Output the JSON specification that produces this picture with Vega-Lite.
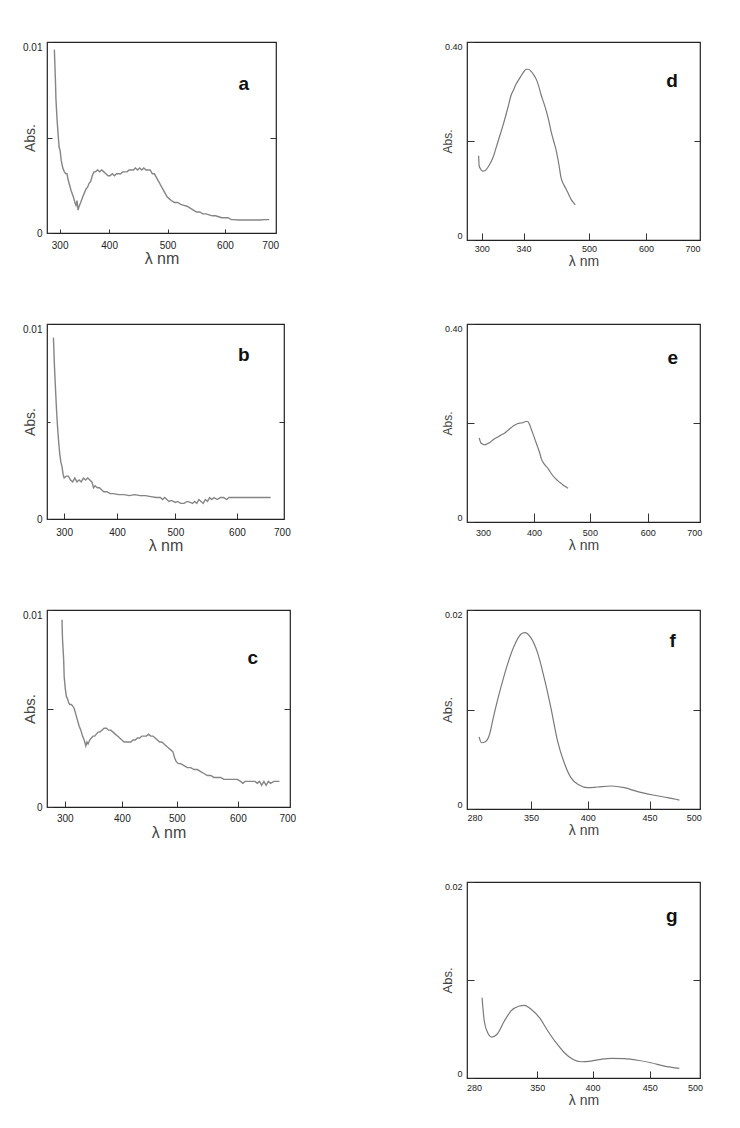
{
  "$schema": "https://vega.github.io/schema/vega-lite/v6.json",
  "padding": {"left": 21, "top": 40, "right": 5, "bottom": 5},
  "background": "white",
  "config": {
    "font": "Liberation Sans",
    "view": {"stroke": "#222", "strokeWidth": 1.2},
    "axis": {"domain": false, "grid": false, "labelFont": "Liberation Sans", "labelFontSize": 10, "labelColor": "#222", "titleFont": "Liberation Sans", "titleFontWeight": "normal", "titleColor": "#444", "tickColor": "#333", "tickWidth": 1}
  },
  "datasets": {
    "a": [
      {"wl":290,"abs":0.0096},{"wl":292,"abs":0.0080},{"wl":293,"abs":0.0070},{"wl":295,"abs":0.0060},{"wl":297,"abs":0.0052},{"wl":299,"abs":0.0045},{"wl":301,"abs":0.0043},{"wl":303,"abs":0.0038},{"wl":306,"abs":0.0034},{"wl":309,"abs":0.0032},{"wl":312,"abs":0.0031},{"wl":314,"abs":0.0031},{"wl":316,"abs":0.0028},{"wl":319,"abs":0.0025},{"wl":322,"abs":0.0022},{"wl":326,"abs":0.0019},{"wl":329,"abs":0.0016},{"wl":331,"abs":0.00145},{"wl":333,"abs":0.0017},{"wl":335,"abs":0.0012},{"wl":337,"abs":0.0014},{"wl":340,"abs":0.0016},{"wl":344,"abs":0.0019},{"wl":347,"abs":0.0021},{"wl":350,"abs":0.0023},{"wl":353,"abs":0.0024},{"wl":356,"abs":0.0026},{"wl":359,"abs":0.0027},{"wl":362,"abs":0.0030},{"wl":365,"abs":0.0032},{"wl":368,"abs":0.0032},{"wl":372,"abs":0.0033},{"wl":376,"abs":0.0032},{"wl":380,"abs":0.0033},{"wl":384,"abs":0.0032},{"wl":388,"abs":0.0031},{"wl":392,"abs":0.0030},{"wl":396,"abs":0.0030},{"wl":400,"abs":0.0031},{"wl":404,"abs":0.0030},{"wl":408,"abs":0.0031},{"wl":412,"abs":0.0031},{"wl":416,"abs":0.0031},{"wl":420,"abs":0.0032},{"wl":424,"abs":0.0032},{"wl":428,"abs":0.0032},{"wl":432,"abs":0.0033},{"wl":436,"abs":0.0033},{"wl":440,"abs":0.0033},{"wl":444,"abs":0.0034},{"wl":448,"abs":0.0033},{"wl":452,"abs":0.0034},{"wl":456,"abs":0.0033},{"wl":460,"abs":0.0034},{"wl":464,"abs":0.0033},{"wl":468,"abs":0.0033},{"wl":472,"abs":0.0033},{"wl":476,"abs":0.0031},{"wl":480,"abs":0.0031},{"wl":484,"abs":0.0029},{"wl":488,"abs":0.0027},{"wl":492,"abs":0.0025},{"wl":496,"abs":0.0023},{"wl":500,"abs":0.0021},{"wl":504,"abs":0.0019},{"wl":508,"abs":0.0018},{"wl":512,"abs":0.0017},{"wl":518,"abs":0.0016},{"wl":524,"abs":0.0016},{"wl":530,"abs":0.0015},{"wl":536,"abs":0.00145},{"wl":542,"abs":0.0014},{"wl":548,"abs":0.0013},{"wl":554,"abs":0.0012},{"wl":560,"abs":0.0011},{"wl":566,"abs":0.0011},{"wl":572,"abs":0.0010},{"wl":578,"abs":0.0010},{"wl":584,"abs":0.00095},{"wl":590,"abs":0.0009},{"wl":596,"abs":0.0009},{"wl":602,"abs":0.00085},{"wl":608,"abs":0.0008},{"wl":614,"abs":0.0008},{"wl":620,"abs":0.0008},{"wl":626,"abs":0.0007},{"wl":632,"abs":0.0007},{"wl":640,"abs":0.00068},{"wl":650,"abs":0.00068},{"wl":660,"abs":0.00068},{"wl":670,"abs":0.00068},{"wl":680,"abs":0.00068},{"wl":690,"abs":0.0007},{"wl":698,"abs":0.0007}
    ],
    "b": [
      {"wl":278,"abs":0.0093},{"wl":280,"abs":0.0078},{"wl":282,"abs":0.0066},{"wl":284,"abs":0.0055},{"wl":286,"abs":0.0046},{"wl":288,"abs":0.0039},{"wl":290,"abs":0.0033},{"wl":292,"abs":0.0029},{"wl":294,"abs":0.0027},{"wl":296,"abs":0.0023},{"wl":298,"abs":0.0021},{"wl":302,"abs":0.0022},{"wl":306,"abs":0.0022},{"wl":310,"abs":0.0020},{"wl":314,"abs":0.0019},{"wl":318,"abs":0.0021},{"wl":322,"abs":0.0019},{"wl":326,"abs":0.0020},{"wl":330,"abs":0.0019},{"wl":334,"abs":0.0021},{"wl":338,"abs":0.0020},{"wl":342,"abs":0.0021},{"wl":346,"abs":0.0020},{"wl":350,"abs":0.0019},{"wl":353,"abs":0.0016},{"wl":356,"abs":0.0017},{"wl":360,"abs":0.0016},{"wl":364,"abs":0.0016},{"wl":368,"abs":0.0015},{"wl":372,"abs":0.0014},{"wl":378,"abs":0.0014},{"wl":384,"abs":0.0013},{"wl":390,"abs":0.0013},{"wl":400,"abs":0.00125},{"wl":410,"abs":0.00125},{"wl":420,"abs":0.0012},{"wl":430,"abs":0.00125},{"wl":440,"abs":0.0012},{"wl":450,"abs":0.0012},{"wl":460,"abs":0.00115},{"wl":470,"abs":0.0011},{"wl":478,"abs":0.0011},{"wl":482,"abs":0.0010},{"wl":486,"abs":0.0011},{"wl":490,"abs":0.0010},{"wl":494,"abs":0.0009},{"wl":498,"abs":0.00095},{"wl":502,"abs":0.0009},{"wl":506,"abs":0.00085},{"wl":510,"abs":0.0009},{"wl":516,"abs":0.0008},{"wl":522,"abs":0.0008},{"wl":528,"abs":0.0009},{"wl":534,"abs":0.00085},{"wl":538,"abs":0.0008},{"wl":542,"abs":0.0009},{"wl":546,"abs":0.0008},{"wl":550,"abs":0.0010},{"wl":554,"abs":0.0009},{"wl":558,"abs":0.0008},{"wl":562,"abs":0.0010},{"wl":566,"abs":0.0009},{"wl":570,"abs":0.0011},{"wl":574,"abs":0.0010},{"wl":578,"abs":0.0011},{"wl":584,"abs":0.0010},{"wl":590,"abs":0.0011},{"wl":596,"abs":0.0011},{"wl":602,"abs":0.0010},{"wl":606,"abs":0.0011},{"wl":612,"abs":0.0011},{"wl":620,"abs":0.0011},{"wl":640,"abs":0.0011},{"wl":660,"abs":0.0011},{"wl":684,"abs":0.0011}
    ],
    "c": [
      {"wl":294,"abs":0.0095},{"wl":295,"abs":0.0085},{"wl":297,"abs":0.0075},{"wl":298,"abs":0.0066},{"wl":300,"abs":0.0060},{"wl":302,"abs":0.0056},{"wl":304,"abs":0.0055},{"wl":306,"abs":0.0053},{"wl":308,"abs":0.0052},{"wl":311,"abs":0.0052},{"wl":314,"abs":0.0051},{"wl":316,"abs":0.0050},{"wl":319,"abs":0.0047},{"wl":322,"abs":0.0044},{"wl":325,"abs":0.0041},{"wl":328,"abs":0.0039},{"wl":331,"abs":0.0036},{"wl":334,"abs":0.0034},{"wl":337,"abs":0.0031},{"wl":339,"abs":0.0033},{"wl":341,"abs":0.0032},{"wl":344,"abs":0.0034},{"wl":347,"abs":0.0035},{"wl":350,"abs":0.0036},{"wl":353,"abs":0.0036},{"wl":356,"abs":0.0037},{"wl":359,"abs":0.0038},{"wl":362,"abs":0.0038},{"wl":366,"abs":0.0039},{"wl":370,"abs":0.0040},{"wl":374,"abs":0.0040},{"wl":378,"abs":0.0039},{"wl":382,"abs":0.0039},{"wl":386,"abs":0.0038},{"wl":390,"abs":0.0037},{"wl":394,"abs":0.0036},{"wl":398,"abs":0.0035},{"wl":402,"abs":0.0034},{"wl":406,"abs":0.0033},{"wl":410,"abs":0.0033},{"wl":414,"abs":0.0033},{"wl":418,"abs":0.0033},{"wl":422,"abs":0.0034},{"wl":426,"abs":0.0034},{"wl":430,"abs":0.0035},{"wl":434,"abs":0.0035},{"wl":438,"abs":0.0036},{"wl":442,"abs":0.0036},{"wl":446,"abs":0.0036},{"wl":450,"abs":0.0037},{"wl":454,"abs":0.0036},{"wl":458,"abs":0.0036},{"wl":462,"abs":0.0035},{"wl":466,"abs":0.0034},{"wl":470,"abs":0.0033},{"wl":474,"abs":0.0033},{"wl":478,"abs":0.0032},{"wl":482,"abs":0.0031},{"wl":486,"abs":0.0030},{"wl":490,"abs":0.0029},{"wl":494,"abs":0.0028},{"wl":497,"abs":0.0025},{"wl":500,"abs":0.0023},{"wl":504,"abs":0.0022},{"wl":508,"abs":0.0022},{"wl":514,"abs":0.0021},{"wl":520,"abs":0.0020},{"wl":526,"abs":0.0020},{"wl":532,"abs":0.0019},{"wl":538,"abs":0.0019},{"wl":544,"abs":0.0018},{"wl":550,"abs":0.0017},{"wl":556,"abs":0.0016},{"wl":562,"abs":0.0016},{"wl":568,"abs":0.0015},{"wl":574,"abs":0.0015},{"wl":580,"abs":0.0015},{"wl":586,"abs":0.0014},{"wl":592,"abs":0.0014},{"wl":598,"abs":0.0014},{"wl":604,"abs":0.0014},{"wl":610,"abs":0.0014},{"wl":616,"abs":0.0013},{"wl":620,"abs":0.0012},{"wl":624,"abs":0.0013},{"wl":630,"abs":0.0013},{"wl":636,"abs":0.0013},{"wl":642,"abs":0.0013},{"wl":646,"abs":0.0012},{"wl":650,"abs":0.0013},{"wl":654,"abs":0.0011},{"wl":658,"abs":0.0013},{"wl":662,"abs":0.0011},{"wl":666,"abs":0.0013},{"wl":670,"abs":0.0012},{"wl":676,"abs":0.0013},{"wl":686,"abs":0.0013}
    ],
    "d": [
      {"wl":292,"abs":0.170},{"wl":293,"abs":0.150},{"wl":296,"abs":0.143},{"wl":300,"abs":0.139},{"wl":305,"abs":0.141},{"wl":309,"abs":0.146},{"wl":314,"abs":0.155},{"wl":319,"abs":0.166},{"wl":325,"abs":0.186},{"wl":331,"abs":0.207},{"wl":338,"abs":0.231},{"wl":344,"abs":0.254},{"wl":349,"abs":0.274},{"wl":353,"abs":0.291},{"wl":358,"abs":0.303},{"wl":363,"abs":0.315},{"wl":368,"abs":0.324},{"wl":372,"abs":0.331},{"wl":377,"abs":0.339},{"wl":382,"abs":0.345},{"wl":386,"abs":0.345},{"wl":391,"abs":0.341},{"wl":396,"abs":0.334},{"wl":401,"abs":0.325},{"wl":406,"abs":0.310},{"wl":410,"abs":0.294},{"wl":415,"abs":0.278},{"wl":420,"abs":0.261},{"wl":425,"abs":0.240},{"wl":429,"abs":0.220},{"wl":434,"abs":0.200},{"wl":439,"abs":0.180},{"wl":444,"abs":0.152},{"wl":448,"abs":0.126},{"wl":453,"abs":0.112},{"wl":458,"abs":0.102},{"wl":463,"abs":0.091},{"wl":467,"abs":0.082},{"wl":471,"abs":0.076},{"wl":475,"abs":0.071}
    ],
    "e": [
      {"wl":293,"abs":0.170},{"wl":296,"abs":0.160},{"wl":300,"abs":0.157},{"wl":303,"abs":0.156},{"wl":308,"abs":0.158},{"wl":312,"abs":0.160},{"wl":318,"abs":0.165},{"wl":325,"abs":0.170},{"wl":333,"abs":0.175},{"wl":341,"abs":0.180},{"wl":349,"abs":0.187},{"wl":357,"abs":0.194},{"wl":362,"abs":0.197},{"wl":366,"abs":0.199},{"wl":371,"abs":0.200},{"wl":376,"abs":0.201},{"wl":380,"abs":0.203},{"wl":384,"abs":0.203},{"wl":388,"abs":0.196},{"wl":391,"abs":0.187},{"wl":396,"abs":0.172},{"wl":401,"abs":0.157},{"wl":406,"abs":0.142},{"wl":410,"abs":0.127},{"wl":416,"abs":0.116},{"wl":423,"abs":0.107},{"wl":429,"abs":0.097},{"wl":436,"abs":0.088},{"wl":442,"abs":0.082},{"wl":448,"abs":0.077},{"wl":454,"abs":0.072},{"wl":460,"abs":0.068}
    ],
    "f": [
      {"wl":291.5,"abs":0.00724},{"wl":293.8,"abs":0.00666},{"wl":297,"abs":0.00673},{"wl":301,"abs":0.00734},{"wl":305.8,"abs":0.00952},{"wl":312.2,"abs":0.01219},{"wl":318.6,"abs":0.01454},{"wl":324.9,"abs":0.01638},{"wl":331.3,"abs":0.01756},{"wl":335.1,"abs":0.01772},{"wl":340.8,"abs":0.01722},{"wl":347.2,"abs":0.01571},{"wl":353.5,"abs":0.0132},{"wl":359.9,"abs":0.01018},{"wl":366.3,"abs":0.00683},{"wl":372.6,"abs":0.00465},{"wl":379,"abs":0.00315},{"wl":386.9,"abs":0.00241},{"wl":394.9,"abs":0.00214},{"wl":404.4,"abs":0.00221},{"wl":417.2,"abs":0.00231},{"wl":429.9,"abs":0.00214},{"wl":442.6,"abs":0.00174},{"wl":458.5,"abs":0.00138},{"wl":471.3,"abs":0.00114},{"wl":482.4,"abs":0.0009}
    ],
    "g": [
      {"wl":288,"abs":0.00819},{"wl":290.2,"abs":0.00582},{"wl":293.6,"abs":0.00462},{"wl":297.6,"abs":0.00418},{"wl":302.9,"abs":0.00446},{"wl":310.2,"abs":0.00582},{"wl":316.8,"abs":0.00684},{"wl":325.1,"abs":0.00735},{"wl":330.1,"abs":0.00742},{"wl":336.8,"abs":0.00701},{"wl":345.1,"abs":0.00615},{"wl":353.5,"abs":0.0048},{"wl":361.7,"abs":0.0036},{"wl":370,"abs":0.00258},{"wl":378.3,"abs":0.00191},{"wl":386.6,"abs":0.00166},{"wl":396.5,"abs":0.00173},{"wl":406.4,"abs":0.00191},{"wl":416.4,"abs":0.00201},{"wl":429.6,"abs":0.00197},{"wl":442.9,"abs":0.00181},{"wl":456.2,"abs":0.00156},{"wl":469.4,"abs":0.00122},{"wl":484.4,"abs":0.00099}
    ]
  },
  "columns": 2,
  "align": "each",
  "bounds": "flush",
  "spacing": {"row": 0, "column": 177},
  "concat": [
    {
      "width": 229, "height": 191,
      "layer": [
        {"data": {"name": "a"}, "mark": {"type": "line", "color": "#858585", "strokeWidth": 1.4},
         "encoding": {
           "x": {"field": "wl", "type": "quantitative", "scale": {"domain": [276, 711], "nice": false, "zero": false},
                 "axis": {"title": "λ nm", "values": [300, 394, 505, 614, 700], "labelExpr": "format(round(datum.value/100)*100, 'd')", "tickSize": -4, "tickOpacity": {"condition": {"test": "datum.value > 690", "value": 0}, "value": 1}, "labelPadding": 11, "titleFontSize": 16, "titlePadding": 0}},
           "y": {"field": "abs", "type": "quantitative", "scale": {"domain": [0, 0.01], "nice": false, "zero": false},
                 "axis": {"title": "Abs.", "values": [0, 0.005, 0.01], "labelExpr": "datum.value == 0 ? '0' : datum.value > 0.008 ? '0.01' : ''", "tickSize": -5, "labelPadding": 10, "titleX": -10, "titleFontSize": 14, "labelBaseline": {"condition": {"test": "datum.value > 0", "value": "top"}, "value": "middle"}}}
         }},
        {"data": {"values": [{"t": "a"}]}, "mark": {"type": "text", "fontSize": 19, "fontWeight": "bold", "color": "#111"},
         "encoding": {"text": {"field": "t"}, "x": {"datum": 650, "type": "quantitative", "axis": null},
           "y": {"datum": 0.0078, "type": "quantitative", "axis": {"orient": "right", "values": [0.005], "labels": false, "title": null, "tickSize": -6}}}}
      ],
      "resolve": {"axis": {"x": "independent", "y": "independent"}}
    },
    {
      "width": 233, "height": 198,
      "layer": [
        {"data": {"name": "d"}, "mark": {"type": "line", "color": "#7a7a7a", "strokeWidth": 1.2, "interpolate": "monotone"},
         "encoding": {
           "x": {"field": "wl", "type": "quantitative", "scale": {"domain": [270, 711], "nice": false, "zero": false},
                 "axis": {"title": "λ nm", "values": [298, 377, 501, 609, 697], "labelExpr": "datum.value < 340 ? '300' : datum.value < 450 ? '340' : datum.value < 550 ? '500' : datum.value < 650 ? '600' : '700'", "tickSize": -7, "tickOpacity": {"condition": {"test": "datum.value > 680", "value": 0}, "value": 1}, "labelPadding": 11, "labelFontSize": 9, "titleFontSize": 14, "titlePadding": 1}},
           "y": {"field": "abs", "type": "quantitative", "scale": {"domain": [0, 0.4], "nice": false, "zero": false},
                 "axis": {"title": "Abs.", "values": [0, 0.2, 0.4], "labelExpr": "datum.value == 0 ? '0' : datum.value > 0.3 ? '0.40' : ''", "tickSize": -7, "labelPadding": 12, "labelFontSize": 9, "titleX": -13, "titleFontSize": 12, "labelBaseline": {"condition": {"test": "datum.value > 0", "value": "top"}, "value": "bottom"}}}
         }},
        {"data": {"values": [{"t": "d"}]}, "mark": {"type": "text", "fontSize": 19, "fontWeight": "bold", "color": "#111"},
         "encoding": {"text": {"field": "t"}, "x": {"datum": 658, "type": "quantitative", "axis": null},
           "y": {"datum": 0.321, "type": "quantitative", "axis": {"orient": "right", "values": [0.2], "labels": false, "title": null, "tickSize": -6}}}}
      ],
      "resolve": {"axis": {"x": "independent", "y": "independent"}}
    },
    {"data": {"values": []}, "mark": "point", "width": 10, "height": 84, "view": {"stroke": null}},
    {"data": {"values": []}, "mark": "point", "width": 10, "height": 1, "view": {"stroke": null}},
    {
      "width": 237, "height": 195,
      "layer": [
        {"data": {"name": "b"}, "mark": {"type": "line", "color": "#858585", "strokeWidth": 1.4},
         "encoding": {
           "x": {"field": "wl", "type": "quantitative", "scale": {"domain": [266, 709], "nice": false, "zero": false},
                 "axis": {"title": "λ nm", "values": [298, 397, 506, 621, 705], "labelExpr": "format(round(datum.value/100)*100, 'd')", "tickSize": -6, "tickOpacity": {"condition": {"test": "datum.value > 690", "value": 0}, "value": 1}, "labelPadding": 14, "titleFontSize": 16, "titlePadding": 0}},
           "y": {"field": "abs", "type": "quantitative", "scale": {"domain": [0, 0.01], "nice": false, "zero": false},
                 "axis": {"title": "Abs.", "values": [0, 0.005, 0.01], "labelExpr": "datum.value == 0 ? '0' : datum.value > 0.008 ? '0.01' : ''", "tickSize": -3, "labelPadding": 8, "titleX": -10, "titleFontSize": 14, "labelBaseline": {"condition": {"test": "datum.value > 0", "value": "top"}, "value": "middle"}}}
         }},
        {"data": {"values": [{"t": "b"}]}, "mark": {"type": "text", "fontSize": 19, "fontWeight": "bold", "color": "#111"},
         "encoding": {"text": {"field": "t"}, "x": {"datum": 634, "type": "quantitative", "axis": null},
           "y": {"datum": 0.0084, "type": "quantitative", "axis": {"orient": "right", "values": [0.005], "labels": false, "title": null, "tickSize": -5}}}}
      ],
      "resolve": {"axis": {"x": "independent", "y": "independent"}}
    },
    {
      "width": 233, "height": 198,
      "layer": [
        {"data": {"name": "e"}, "mark": {"type": "line", "color": "#7a7a7a", "strokeWidth": 1.2, "interpolate": "monotone"},
         "encoding": {
           "x": {"field": "wl", "type": "quantitative", "scale": {"domain": [270, 708], "nice": false, "zero": false},
                 "axis": {"title": "λ nm", "values": [300, 396, 501, 610, 697], "labelExpr": "format(round(datum.value/100)*100, 'd')", "tickSize": -9, "tickOpacity": {"condition": {"test": "datum.value > 680 || datum.value < 350", "value": 0}, "value": 1}, "labelPadding": 15, "labelFontSize": 9, "titleFontSize": 14, "titlePadding": 1}},
           "y": {"field": "abs", "type": "quantitative", "scale": {"domain": [0, 0.4], "nice": false, "zero": false},
                 "axis": {"title": "Abs.", "values": [0, 0.2, 0.4], "labelExpr": "datum.value == 0 ? '0' : datum.value > 0.3 ? '0.40' : ''", "tickSize": -7, "labelPadding": 12, "labelFontSize": 9, "titleX": -13, "titleFontSize": 12, "labelBaseline": {"condition": {"test": "datum.value > 0", "value": "top"}, "value": "bottom"}}}
         }},
        {"data": {"values": [{"t": "e"}]}, "mark": {"type": "text", "fontSize": 19, "fontWeight": "bold", "color": "#111"},
         "encoding": {"text": {"field": "t"}, "x": {"datum": 657, "type": "quantitative", "axis": null},
           "y": {"datum": 0.332, "type": "quantitative", "axis": {"orient": "right", "values": [0.2], "labels": false, "title": null, "tickSize": -7}}}}
      ],
      "resolve": {"axis": {"x": "independent", "y": "independent"}}
    },
    {"data": {"values": []}, "mark": "point", "width": 10, "height": 88, "view": {"stroke": null}},
    {"data": {"values": []}, "mark": "point", "width": 10, "height": 1, "view": {"stroke": null}},
    {
      "width": 243, "height": 197,
      "layer": [
        {"data": {"name": "c"}, "mark": {"type": "line", "color": "#858585", "strokeWidth": 1.4},
         "encoding": {
           "x": {"field": "wl", "type": "quantitative", "scale": {"domain": [267, 705], "nice": false, "zero": false},
                 "axis": {"title": "λ nm", "values": [299, 402, 501, 611, 700], "labelExpr": "format(round(datum.value/100)*100, 'd')", "tickSize": -6, "tickOpacity": {"condition": {"test": "datum.value > 690", "value": 0}, "value": 1}, "labelPadding": 12, "titleFontSize": 16, "titlePadding": 1}},
           "y": {"field": "abs", "type": "quantitative", "scale": {"domain": [0, 0.01], "nice": false, "zero": false},
                 "axis": {"title": "Abs.", "values": [0, 0.005, 0.01], "labelExpr": "datum.value == 0 ? '0' : datum.value > 0.008 ? '0.01' : ''", "tickSize": -6, "labelPadding": 11, "titleX": -10, "titleFontSize": 15, "labelBaseline": {"condition": {"test": "datum.value > 0", "value": "top"}, "value": "middle"}}}
         }},
        {"data": {"values": [{"t": "c"}]}, "mark": {"type": "text", "fontSize": 19, "fontWeight": "bold", "color": "#111"},
         "encoding": {"text": {"field": "t"}, "x": {"datum": 638, "type": "quantitative", "axis": null},
           "y": {"datum": 0.00756, "type": "quantitative", "axis": {"orient": "right", "values": [0.005], "labels": false, "title": null, "tickSize": -6}}}}
      ],
      "resolve": {"axis": {"x": "independent", "y": "independent"}}
    },
    {
      "width": 233, "height": 199,
      "layer": [
        {"data": {"name": "f"}, "mark": {"type": "line", "color": "#7a7a7a", "strokeWidth": 1.2, "interpolate": "monotone"},
         "encoding": {
           "x": {"field": "wl", "type": "quantitative", "scale": {"domain": [280, 502], "nice": false, "zero": false},
                 "axis": {"title": "λ nm", "values": [280, 341, 395, 454, 496], "labelExpr": "datum.value < 300 ? '280' : datum.value < 370 ? '350' : datum.value < 420 ? '400' : datum.value < 475 ? '450' : '500'", "tickSize": -8, "tickOpacity": {"condition": {"test": "datum.value > 480 || datum.value < 300", "value": 0}, "value": 1}, "labelPadding": 12, "labelFontSize": 9, "titleFontSize": 14, "titlePadding": 1}},
           "y": {"field": "abs", "type": "quantitative", "scale": {"domain": [0, 0.02], "nice": false, "zero": false},
                 "axis": {"title": "Abs.", "values": [0, 0.01, 0.02], "labelExpr": "datum.value == 0 ? '0' : datum.value > 0.015 ? '0.02' : ''", "tickSize": -7, "labelPadding": 12, "labelFontSize": 9, "titleX": -13, "titleFontSize": 13, "labelBaseline": {"condition": {"test": "datum.value > 0", "value": "top"}, "value": "bottom"}}}
         }},
        {"data": {"values": [{"t": "f"}]}, "mark": {"type": "text", "fontSize": 19, "fontWeight": "bold", "color": "#111"},
         "encoding": {"text": {"field": "t"}, "x": {"datum": 476, "type": "quantitative", "axis": null},
           "y": {"datum": 0.0169, "type": "quantitative", "axis": {"orient": "right", "values": [0.01], "labels": false, "title": null, "tickSize": -7}}}}
      ],
      "resolve": {"axis": {"x": "independent", "y": "independent"}}
    },
    {"data": {"values": []}, "mark": "point", "width": 10, "height": 73, "view": {"stroke": null}},
    {"data": {"values": []}, "mark": "point", "width": 10, "height": 1, "view": {"stroke": null}},
    {"data": {"values": []}, "mark": "point", "width": 10, "height": 1, "view": {"stroke": null}},
    {
      "width": 233, "height": 196,
      "layer": [
        {"data": {"name": "g"}, "mark": {"type": "line", "color": "#7a7a7a", "strokeWidth": 1.2, "interpolate": "monotone"},
         "encoding": {
           "x": {"field": "wl", "type": "quantitative", "scale": {"domain": [273, 505], "nice": false, "zero": false},
                 "axis": {"title": "λ nm", "values": [280, 343, 398, 455, 500], "labelExpr": "datum.value < 300 ? '280' : datum.value < 370 ? '350' : datum.value < 420 ? '400' : datum.value < 475 ? '450' : '500'", "tickSize": -7, "tickOpacity": {"condition": {"test": "datum.value > 480 || datum.value < 300", "value": 0}, "value": 1}, "labelPadding": 12, "labelFontSize": 9, "titleFontSize": 14, "titlePadding": 1}},
           "y": {"field": "abs", "type": "quantitative", "scale": {"domain": [0, 0.02], "nice": false, "zero": false},
                 "axis": {"title": "Abs.", "values": [0, 0.01, 0.02], "labelExpr": "datum.value == 0 ? '0' : datum.value > 0.015 ? '0.02' : ''", "tickSize": -7, "labelPadding": 12, "labelFontSize": 9, "titleX": -13, "titleFontSize": 13, "labelBaseline": {"condition": {"test": "datum.value > 0", "value": "top"}, "value": "bottom"}}}
         }},
        {"data": {"values": [{"t": "g"}]}, "mark": {"type": "text", "fontSize": 19, "fontWeight": "bold", "color": "#111"},
         "encoding": {"text": {"field": "t"}, "x": {"datum": 477, "type": "quantitative", "axis": null},
           "y": {"datum": 0.0165, "type": "quantitative", "axis": {"orient": "right", "values": [0.01], "labels": false, "title": null, "tickSize": -7}}}}
      ],
      "resolve": {"axis": {"x": "independent", "y": "independent"}}
    }
  ]
}
